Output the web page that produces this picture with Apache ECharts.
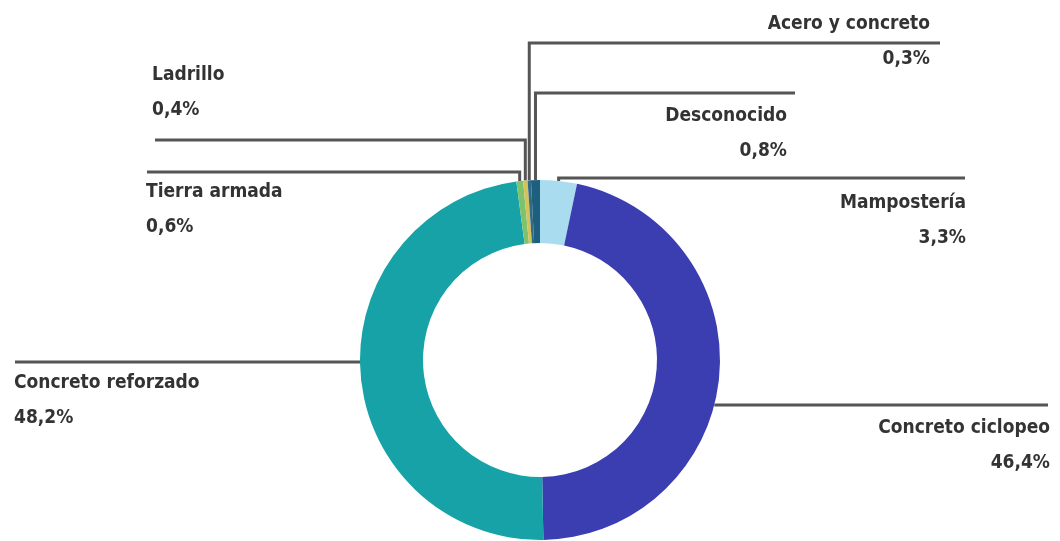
<!DOCTYPE html>
<html>
<head>
<meta charset="utf-8">
<script src="https://cdn.jsdelivr.net/npm/echarts@6/dist/echarts.min.js"></script>
<style>
html,body{margin:0;padding:0;background:#fff;}
#c{width:1060px;height:541px;}
</style>
</head>
<body>
<div id="c"></div>
<script>
// ---- data ----
var categories = ['Mampostería', 'Concreto ciclopeo', 'Concreto reforzado', 'Tierra armada', 'Ladrillo', 'Acero y concreto', 'Desconocido'];
var shares = [3.3, 46.4, 48.2, 0.6, 0.4, 0.3, 0.8];

// ---- styling / layout (not data) ----
var colors = ['#a9dcef', '#3a3eb0', '#16a2a6', '#7fc26e', '#d4c35c', '#2f6a86', '#1d5f7c'];
var CX = 540, CY = 360, R_IN = 117, R_OUT = 180;
// per-slice label layout: text anchor x, text top y, alignment, elbow y, line end x, mode
var layout = [
  {x: 966, y: 186, align: 'right', lineY: 178, endX: 965, mode: 'top'},
  {x: 1050, y: 411, align: 'right', lineY: 405, endX: 1048, mode: 'side'},
  {x: 14, y: 366, align: 'left', lineY: 362, endX: 15, mode: 'side'},
  {x: 146, y: 175, align: 'left', lineY: 172, endX: 147, mode: 'top'},
  {x: 152, y: 58, align: 'left', lineY: 140, endX: 155, mode: 'top'},
  {x: 930, y: 7, align: 'right', lineY: 43, endX: 940, mode: 'top'},
  {x: 787, y: 99, align: 'right', lineY: 93, endX: 795, mode: 'top'}
];

var chart = echarts.init(document.getElementById('c'));
chart.setOption({
  backgroundColor: '#ffffff',
  animation: false,
  series: [{
    type: 'pie',
    center: [CX, CY],
    radius: [R_IN, R_OUT],
    startAngle: 90,
    clockwise: true,
    avoidLabelOverlap: false,
    data: categories.map(function (n, i) {
      return {name: n, value: shares[i], itemStyle: {color: colors[i]}};
    }),
    itemStyle: {borderWidth: 0},
    label: {
      show: true,
      position: 'outside',
      formatter: function (p) {
        return p.name + '\n' + p.value.toFixed(1).replace('.', ',') + '%';
      },
      fontFamily: '"Liberation Sans Narrow", "DejaVu Sans Condensed", sans-serif',
      fontWeight: 'bold',
      fontSize: 19,
      lineHeight: 35,
      color: '#333333'
    },
    labelLine: {
      show: true,
      length: 10,
      length2: 10,
      lineStyle: {color: '#555555', width: 3}
    },
    labelLayout: function (params) {
      var L = layout[params.dataIndex];
      var pts;
      if (L.mode === 'side') {
        var dy = L.lineY - CY;
        var dx = Math.sqrt(R_OUT * R_OUT - dy * dy);
        var sx = L.endX > CX ? CX + dx : CX - dx;
        pts = [[sx, L.lineY], [sx, L.lineY], [L.endX, L.lineY]];
      } else {
        var s = params.labelLinePoints[0];
        pts = [[s[0], s[1]], [s[0], L.lineY], [L.endX, L.lineY]];
      }
      return {
        x: L.x,
        y: L.y,
        align: L.align,
        verticalAlign: 'top',
        labelLinePoints: pts
      };
    }
  }]
});
</script>
</body>
</html>
